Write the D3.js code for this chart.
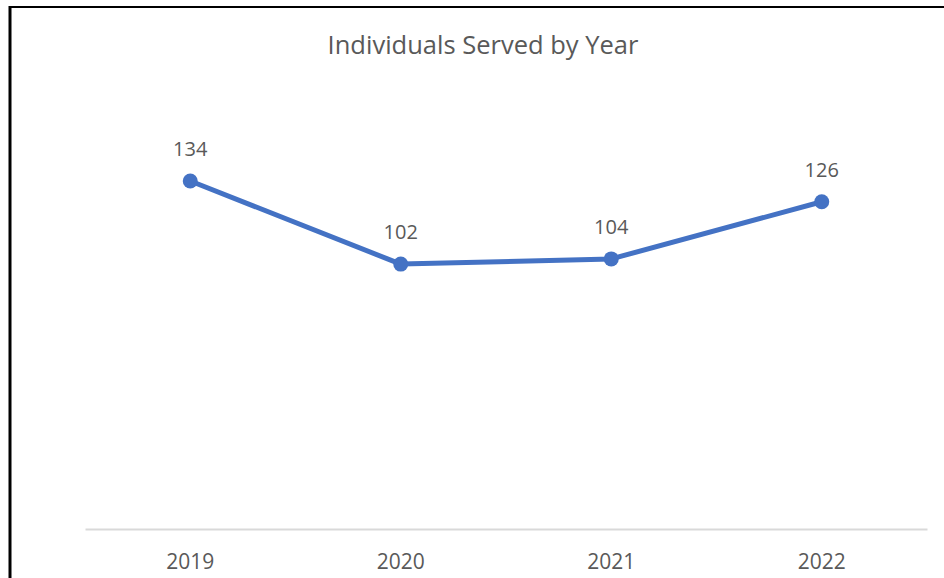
<!DOCTYPE html>
<html><head><meta charset="utf-8">
<script src="https://cdn.jsdelivr.net/npm/d3@7"></script>
<style>html,body{margin:0;padding:0;background:#fff;}svg{display:block;}</style>
</head><body>
<svg id="c" width="944" height="578"></svg>
<script>
const title = "Individuals Served by Year";
const years = ["2019", "2020", "2021", "2022"];
const served = [134, 102, 104, 126];
const yDomain = [0, 160];

const svg = d3.select("#c");
const W = 944, H = 578;
const font = "'Open Sans', sans-serif";
const textColor = "#595959";
const lineColor = "#4472C4";

svg.append("rect").attr("width", W).attr("height", H).attr("fill", "#fff");

// chart frame (top and left edges visible)
svg.append("line").attr("x1", 9).attr("x2", W).attr("y1", 7).attr("y2", 7)
  .attr("stroke", "#000").attr("stroke-width", 2);
svg.append("line").attr("x1", 10).attr("x2", 10).attr("y1", 6).attr("y2", H)
  .attr("stroke", "#000").attr("stroke-width", 3);

const x = d3.scaleBand().domain(years).range([85, 927]);
const y = d3.scaleLinear().domain(yDomain).range([529, 529 - 160 * 2.597]);

svg.append("text").attr("x", 483).attr("y", 54).attr("text-anchor", "middle")
  .attr("font-family", font).attr("font-size", 25.5).attr("fill", textColor).text(title);

const xAxis = svg.append("g").attr("transform", "translate(0,529)")
  .call(d3.axisBottom(x).tickSize(0).tickPadding(0));
xAxis.select(".domain").attr("stroke", "#d9d9d9").attr("stroke-width", 2);
xAxis.selectAll("text").attr("font-family", font).attr("font-size", 21)
  .attr("fill", textColor).attr("dy", null).attr("y", 40);

const cx = d => x(d) + x.bandwidth() / 2;
const pts = years.map((d, i) => [cx(d), y(served[i])]);

svg.append("path").attr("d", d3.line()(pts)).attr("fill", "none")
  .attr("stroke", lineColor).attr("stroke-width", 5).attr("stroke-linejoin", "round");

svg.selectAll("circle.pt").data(pts).join("circle").attr("class", "pt")
  .attr("cx", d => d[0]).attr("cy", d => d[1]).attr("r", 7.5).attr("fill", lineColor);

svg.selectAll("text.lbl").data(served).join("text").attr("class", "lbl")
  .attr("x", (d, i) => pts[i][0]).attr("y", (d, i) => pts[i][1] - 25)
  .attr("text-anchor", "middle").attr("font-family", font).attr("font-size", 20)
  .attr("fill", textColor).text(d => d);
</script>
</body></html>
